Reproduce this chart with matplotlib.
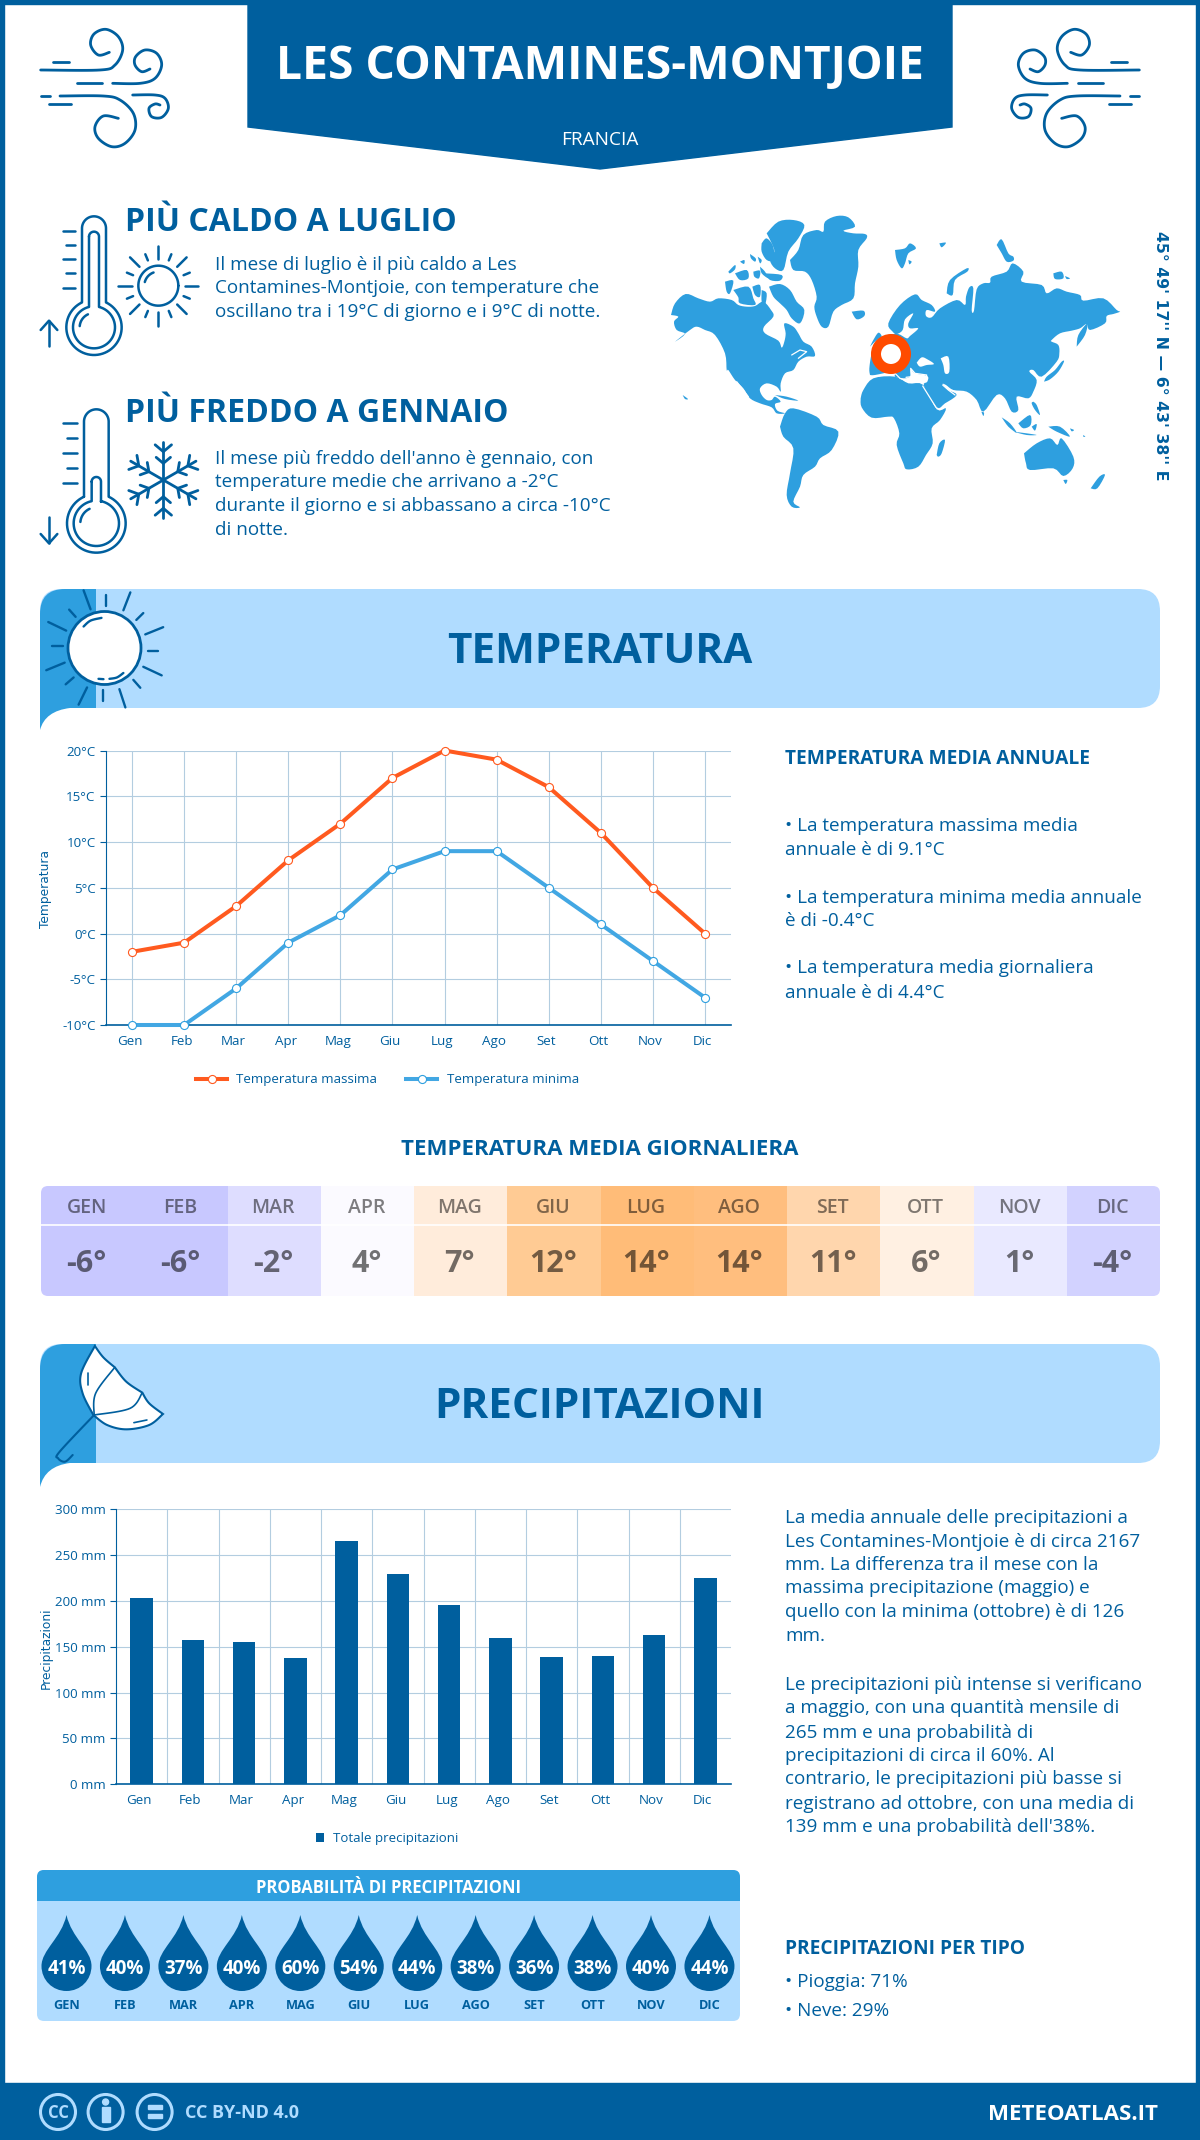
import numpy as np
import matplotlib
matplotlib.use('Agg')
import matplotlib.pyplot as plt
from matplotlib.patches import Circle, FancyBboxPatch, PathPatch, Polygon, Rectangle
from matplotlib.path import Path
from matplotlib.transforms import ScaledTranslation

plt.rcParams['font.family'] = ['Open Sans', 'DejaVu Sans']

W, H = 1200, 2140
DARK = '#005f9e'
MID = '#2e9fdf'
LIGHT = '#b0dcff'
ORANGE = '#ff5a1f'
GRID = '#b3cde0'

months = ['Gen', 'Feb', 'Mar', 'Apr', 'Mag', 'Giu', 'Lug', 'Ago', 'Set', 'Ott', 'Nov', 'Dic']
temp_max = [-2, -1, 3, 8, 12, 17, 20, 19, 16, 11, 5, 0]
temp_min = [-10, -10, -6, -1, 2, 7, 9, 9, 5, 1, -3, -7]
temp_avg = [-6, -6, -2, 4, 7, 12, 14, 14, 11, 6, 1, -4]
avg_colors = ['#c8c8ff', '#c8c8ff', '#deddff', '#fbfaff', '#ffecdb', '#ffcb94',
              '#ffbc78', '#ffbe7e', '#ffd6ad', '#fff0e2', '#e9e9ff', '#d2d2ff']
rain = [203, 157, 155, 138, 265, 229, 196, 160, 139, 140, 163, 225]
rain_prob = [41, 40, 37, 40, 60, 54, 44, 38, 36, 38, 40, 44]

fig = plt.figure(figsize=(W / 100, H / 100), dpi=100, facecolor='white')
bg = fig.add_axes([0, 0, 1, 1])
bg.set_xlim(0, W)
bg.set_ylim(H, 0)
bg.axis('off')


def text(x, y, s, size, weight='normal', color=DARK, ha='left', **kw):
    # y is the middle of the capitals, in picture pixels
    return bg.text(x, y + 0.496 * size, s, fontsize=size, fontweight=weight, color=color,
                   ha=ha, va='baseline', **kw)


def stroke(pts, lw=1.8, color=DARK, zorder=5):
    pts = np.array(pts, float)
    bg.plot(pts[:, 0], pts[:, 1], color=color, lw=lw, solid_capstyle='round',
            solid_joinstyle='round', zorder=zorder)


def smooth(pts, n=12):
    # catmull-rom through hand placed points, for the icons
    p = np.array(pts, float)
    p = np.vstack([p[0], p, p[-1]])
    out = []
    for i in range(1, len(p) - 2):
        for t in np.linspace(0, 1, n, endpoint=False):
            out.append(0.5 * (2 * p[i] + (p[i + 1] - p[i - 1]) * t
                              + (2 * p[i - 1] - 5 * p[i] + 4 * p[i + 1] - p[i + 2]) * t ** 2
                              + (3 * p[i] - p[i - 1] - 3 * p[i + 1] + p[i + 2]) * t ** 3))
    out.append(p[-2])
    return np.array(out)


def arc(cx, cy, r, a0, a1, n=60):
    a = np.radians(np.linspace(a0, a1, n))
    return np.column_stack([cx + r * np.cos(a), cy - r * np.sin(a)])


# page frame and footer
bg.add_patch(Rectangle((0, 0), 4, H, color=DARK))
bg.add_patch(Rectangle((W - 4, 0), 4, H, color=DARK))
bg.add_patch(Rectangle((0, 0), W, 4, color=DARK))
bg.add_patch(Rectangle((0, 2083), W, 57, color=DARK))

# header ribbon
bg.add_patch(Polygon([(248, 0), (952, 0), (952, 127), (600, 169), (248, 127)], color=DARK))
text(600, 62, 'LES CONTAMINES-MONTJOIE', 33.3, 'bold', 'white', ha='center')
text(600, 138, 'FRANCIA', 13.7, 'normal', 'white', ha='center')

# wind icons
wind_curves = [
    [(62, 180), (240, 180), (285, 165), (308, 120), (295, 80), (258, 58), (222, 72), (212, 105), (235, 135), (268, 127)],
    [(278, 220), (360, 220), (405, 205), (425, 165), (410, 130), (375, 120), (347, 140), (345, 165), (365, 185), (390, 177)],
    [(120, 258), (250, 258), (300, 270), (340, 310), (345, 360), (315, 400), (275, 410), (235, 385), (225, 350), (250, 318), (295, 325)],
    [(338, 255), (405, 255), (435, 265), (445, 295), (425, 322), (395, 320), (387, 295), (405, 282), (420, 285)],
]
wind_dashes = [[(100, 155), (148, 155)], [(170, 220), (245, 220)], [(62, 258), (90, 258)], [(87, 283), (153, 283)]]
for curve in wind_curves + wind_dashes:
    pts = smooth(curve) if len(curve) > 2 else np.array(curve, float)
    pts = np.column_stack([20 + pts[:, 0] / 3, 10 + pts[:, 1] / 3])
    stroke(pts, 2.0)
    stroke(np.column_stack([1180 - pts[:, 0], pts[:, 1]]), 2.0)


# thermometers and small icons, drawn in 3x crop coordinates
def z7(pts):
    pts = np.array(pts, float)
    return np.column_stack([20 + pts[:, 0] / 3, 200 + pts[:, 1] / 3])


def thermometer(cx, hw, top, neck, bulb_y, bulb_r, inner_hw, inner_top, inner_neck, inner_r):
    a = np.degrees(np.arccos(hw / bulb_r))
    outer = np.vstack([[[cx - hw, neck]], arc(cx, top, hw, 180, 0), [[cx + hw, neck]],
                       arc(cx, bulb_y, bulb_r, a, 180 - a - 360)])
    stroke(z7(outer))
    b = np.degrees(np.arccos(inner_hw / inner_r))
    inner = np.vstack([arc(cx, inner_top, inner_hw, 180, 0), [[cx + inner_hw, inner_neck]],
                       arc(cx, bulb_y, inner_r, b, 180 - b - 360), [[cx - inner_hw, inner_top]]])
    stroke(z7(inner))
    stroke(z7(arc(cx, bulb_y, inner_r - 20, 115, 175, 15)))


thermometer(222, 36, 85, 305, 382, 83, 15, 110, 320, 63)
thermometer(229, 37, 665, 890, 970, 88, 14, 845, 905, 68)
for y, x0 in zip([93, 135, 178, 220, 263], [128, 138, 128, 138, 128]):
    stroke(z7([(x0, y), (165, y)]))
for y, x0 in zip([670, 715, 760, 803, 848], [130, 140, 130, 140, 130]):
    stroke(z7([(x0, y), (170, y)]))
stroke(z7([(87, 438), (87, 362)]))
stroke(z7([(62, 390), (87, 362), (112, 390)]))
stroke(z7([(87, 950), (87, 1030)]))
stroke(z7([(62, 1002), (87, 1030), (112, 1002)]))

# small sun
stroke(z7(arc(415, 257, 60, 0, 360)))
stroke(z7(arc(415, 257, 42, 110, 165, 15)))
for a in np.arange(0, 360, 22.5):
    r0, r1 = (80, 120) if int(a / 22.5) % 2 == 0 else (82, 102)
    ca, sa = np.cos(np.radians(a)), np.sin(np.radians(a))
    stroke(z7([(415 + r0 * ca, 257 - r0 * sa), (415 + r1 * ca, 257 - r1 * sa)]))

# snowflake
for a in np.arange(30, 360, 60):
    u = np.array([np.cos(np.radians(a)), -np.sin(np.radians(a))])
    c = np.array([430, 840])
    stroke(z7([c, c + 113 * u]), 2.0)
    for r, l in [(50, 28), (85, 32)]:
        for s in (-50, 50):
            t = np.radians(a + s)
            v = np.array([np.cos(t), -np.sin(t)])
            stroke(z7([c + r * u, c + r * u + l * v]), 2.0)

# left texts
text(125, 220, 'PIÙ CALDO A LUGLIO', 23, 'bold')
for y, line in zip([263, 286, 310], ['Il mese di luglio è il più caldo a Les',
                                     'Contamines-Montjoie, con temperature che',
                                     'oscillano tra i 19°C di giorno e i 9°C di notte.']):
    text(215, y, line, 13.6)
text(125, 411, 'PIÙ FREDDO A GENNAIO', 23, 'bold')
for y, line in zip([457, 480, 504, 528], ["Il mese più freddo dell'anno è gennaio, con",
                                          'temperature medie che arrivano a -2°C',
                                          'durante il giorno e si abbassano a circa -10°C',
                                          'di notte.']):
    text(215, y, line, 13.6)


# world map, traced by hand from 3x crops; all lists end up in crop coordinates of (660, 200)
def crop_a(pts):
    return [(x + 15, y + 30) for x, y in pts]


def crop_b(pts):
    return [(x + 690, y + 90) for x, y in pts]


def crop_c(pts):
    return [(x + 480, y + 360) for x, y in pts]


north_america = crop_a([(18, 315), (30, 280), (62, 252), (100, 265), (135, 275), (160, 265), (200, 270), (220, 285), (245, 290), (270, 288), (295, 275), (318, 300), (325, 320), (297, 350), (300, 370), (340, 392), (350, 413), (358, 395), (362, 370), (358, 340), (385, 350), (400, 370), (415, 395), (440, 410), (450, 438), (425, 440), (400, 455), (385, 480)]) + [(375, 520), (362, 550), (362, 575), (350, 560), (320, 550), (300, 565), (305, 585), (320, 600), (335, 600), (345, 590), (362, 605), (345, 612), (352, 632), (375, 640), (350, 640), (335, 622), (300, 610), (270, 595), (250, 565), (225, 540), (205, 510)] + crop_a([(185, 480), (180, 430), (150, 375), (120, 360), (95, 350), (75, 360), (30, 395), (60, 372), (35, 360), (27, 335), (40, 320)])
eurasia = crop_c([(150, 165), (148, 145), (155, 100), (170, 60), (210, 45), (235, 42)]) + crop_b([(50, 325), (60, 318), (85, 295), (60, 295), (55, 280), (70, 250), (45, 268), (38, 300), (20, 312), (8, 305), (-5, 280), (30, 225), (75, 193), (95, 210), (125, 225), (135, 245), (110, 240), (108, 258), (125, 262), (150, 235), (200, 210), (225, 225), (228, 200), (238, 172), (250, 175), (245, 240), (252, 242), (260, 178), (280, 160), (300, 158), (305, 140), (350, 125), (368, 100), (400, 125), (395, 155), (455, 165), (470, 190), (500, 175), (530, 185), (570, 195), (580, 212), (640, 205), (680, 240), (690, 245), (670, 252), (650, 258), (645, 280), (600, 300), (590, 282), (570, 295), (545, 302), (510, 310), (485, 330)]) + crop_c([(695, 65), (715, 75), (718, 100), (710, 125), (665, 170), (640, 150), (628, 155), (650, 180), (640, 215), (625, 235), (590, 230), (595, 270), (575, 275), (555, 235), (530, 225), (490, 275), (470, 240), (440, 215), (400, 210), (378, 195), (368, 192), (385, 210), (410, 225), (375, 250), (350, 262), (312, 198), (322, 185), (322, 168), (285, 160), (272, 148), (270, 170), (250, 175), (225, 170), (222, 155), (165, 165)])
africa = crop_c([(122, 235), (130, 210), (160, 175), (225, 170), (265, 190), (310, 195), (350, 268), (378, 265), (360, 300), (335, 325), (338, 370), (318, 405), (295, 440), (260, 448), (250, 430), (230, 375), (238, 340), (222, 295), (205, 290), (155, 293), (125, 262)])
south_america = [(360, 680), (375, 640), (400, 625), (470, 650), (490, 675), (535, 695), (515, 750), (480, 775), (465, 800), (430, 825), (420, 860), (400, 905), (420, 922), (395, 920), (380, 885), (390, 820), (400, 745), (370, 710)]
greenland = crop_a([(375, 150), (400, 120), (415, 75), (455, 60), (475, 65), (480, 35), (515, 18), (550, 22), (570, 50), (535, 62), (565, 70), (600, 72), (605, 85), (580, 120), (580, 170), (570, 220), (565, 265), (530, 285), (505, 305), (490, 350), (470, 350), (455, 320), (448, 290), (455, 260), (440, 210), (420, 185), (385, 180)])
arctic_islands = [crop_a(p) for p in [
    [(312, 230), (345, 222), (375, 240), (395, 275), (418, 300), (405, 340), (380, 325), (365, 300), (345, 280), (325, 260)],
    [(305, 70), (340, 35), (385, 30), (418, 45), (400, 85), (370, 125), (355, 180), (330, 175), (315, 150), (328, 125), (320, 100)],
    [(290, 100), (305, 85), (325, 110), (325, 150), (305, 150), (290, 125)],
    [(180, 215), (205, 212), (195, 250), (185, 245)],
    [(205, 240), (250, 230), (265, 265), (270, 285), (225, 280), (220, 262)],
    [(262, 230), (285, 225), (285, 260), (270, 255)],
    [(290, 240), (305, 250), (300, 285), (290, 275)],
    [(300, 190), (350, 195), (345, 212), (315, 210)],
    [(265, 185), (285, 182), (282, 205), (268, 200)],
    [(210, 190), (245, 180), (250, 205), (225, 210)],
    [(190, 185), (210, 165), (210, 178), (195, 190)],
    [(225, 155), (238, 150), (237, 162)],
    [(255, 132), (272, 145), (270, 155), (258, 145)],
    [(285, 170), (300, 185), (310, 205), (290, 190)],
    [(278, 140), (290, 150), (285, 160)],
    [(560, 305), (595, 302), (598, 318), (575, 328)],
]]
north_islands = [crop_b(p) for p in [
    [(560, 350), (565, 315), (592, 280), (585, 315)],
    [(15, 60), (45, 55), (60, 40), (78, 55), (55, 70), (45, 100), (35, 115), (20, 90)],
    [(55, 90), (65, 95), (58, 103)],
    [(148, 40), (168, 38), (155, 52)],
    [(170, 190), (180, 150), (230, 115), (232, 125), (195, 150), (188, 195)],
    [(320, 45), (335, 28), (355, 70), (370, 80), (370, 92), (350, 95), (335, 70)],
    [(490, 130), (515, 125), (520, 145), (495, 147)],
    [(525, 138), (540, 145), (530, 147)],
]]
south_islands = [crop_c(p) for p in [
    [(150, 80), (160, 60), (175, 38), (185, 50), (170, 60)],
    [(672, 185), (680, 170), (705, 150), (725, 125), (732, 125), (715, 155), (690, 178)],
    [(545, 292), (570, 310), (590, 338), (565, 320)],
    [(580, 335), (620, 340), (650, 345), (620, 345)],
    [(595, 310), (630, 285), (632, 315), (610, 325)],
    [(635, 320), (650, 312), (645, 332)],
    [(640, 245), (650, 255), (660, 285), (645, 270), (635, 250)],
    [(685, 320), (720, 320), (750, 350), (710, 335)],
    [(612, 400), (650, 370), (690, 355), (712, 375), (725, 355), (760, 410), (758, 445), (730, 468), (700, 445), (630, 450), (618, 430)],
    [(730, 480), (742, 480), (737, 492)],
    [(812, 505), (838, 470), (855, 465), (832, 505)],
    [(350, 405), (358, 370), (375, 360), (365, 400), (355, 410)],
    [(484, 275), (492, 278), (490, 288)],
    [(750, 325), (762, 330), (755, 334)],
    [(790, 345), (796, 350), (790, 350)],
]]
caribbean = [[(345, 585), (380, 590), (415, 602), (375, 597)], [(68, 585), (84, 597), (75, 597)]]
lakes = [
    crop_c([(290, 128), (305, 112), (322, 118), (342, 132), (320, 135), (300, 140)]),
    crop_c([(362, 115), (385, 110), (388, 155), (375, 160), (370, 135)]),
]
water_lines = [
    crop_c([(150, 172), (190, 165), (225, 160), (240, 175), (262, 183), (285, 185), (318, 185), (320, 165), (285, 160), (272, 145), (275, 170), (258, 172)]),
    crop_c([(308, 198), (348, 262)]),
    crop_c([(368, 195), (385, 210), (405, 225)]),
    [(395, 465), (420, 450), (440, 455), (415, 475)],
    [(230, 545), (265, 590)],
]


def to_page(pts):
    p = np.array(pts, float)
    return np.column_stack([660 + p[:, 0] / 3, 200 + p[:, 1] / 3])


for poly in [north_america, eurasia, africa, south_america, greenland] + arctic_islands + north_islands + south_islands + caribbean:
    closed = smooth(list(poly) + [poly[0]], n=4)
    bg.add_patch(Polygon(to_page(closed), color=MID, lw=0))
for poly in lakes:
    closed = smooth(list(poly) + [poly[0]], n=4)
    bg.add_patch(Polygon(to_page(closed), color='white', lw=0))
for line in water_lines:
    stroke(to_page(line), 0.9, 'white', zorder=2)
bg.add_patch(Circle((891, 354), 15, fc='white', ec='#ff4b00', lw=7.2, zorder=6))
bg.text(1161, 356, "45° 49' 17'' N — 6° 43' 38'' E", fontsize=11.3, fontweight='bold', family='DejaVu Sans',
        color=DARK, rotation=270, ha='center', va='center')


def banner(top, bottom, title, title_y, tail):
    bg.add_patch(FancyBboxPatch((40, top), 1120, bottom - top, boxstyle='round,pad=0,rounding_size=22',
                                fc=LIGHT, ec='none'))
    verts = [(40, tail), (45, bottom + 3), (70, bottom), (96, bottom), (96, top), (65, top), (40, top), (40, top + 25), (40, tail)]
    codes = [Path.MOVETO, Path.CURVE3, Path.CURVE3, Path.LINETO, Path.LINETO, Path.LINETO, Path.CURVE3, Path.CURVE3, Path.LINETO]
    bg.add_patch(PathPatch(Path(verts, codes), fc=MID, ec='none'))
    text(600, title_y, title, 30.4, 'bold', ha='center')


banner(589, 708, 'TEMPERATURA', 648, 730)
banner(1344, 1463, 'PRECIPITAZIONI', 1403, 1487)


# big sun on the temperature banner
def z2(pts):
    pts = np.array(pts, float)
    return np.column_stack([pts[:, 0] / 2.01, 580 + pts[:, 1] / 2.904])


bg.add_patch(Circle((104.5, 648), 36.5, fc='white', ec=DARK, lw=2, zorder=5))
sun_rays = [[(168, 30), (182, 85)], [(214, 45), (214, 75)], [(262, 36), (248, 88)], [(288, 96), (274, 116)],
            [(328, 137), (292, 158)], [(297, 205), (318, 205)], [(288, 252), (325, 277)], [(268, 290), (282, 313)],
            [(240, 317), (252, 370)], [(207, 320), (207, 352)], [(175, 312), (158, 362)], [(148, 283), (132, 303)],
            [(130, 240), (93, 262)], [(105, 193), (127, 193)], [(133, 147), (97, 122)], [(152, 107), (139, 86)]]
for ray in sun_rays:
    stroke(z2(ray), 1.7)
stroke(z2(smooth([(168, 135), (182, 118), (204, 110)])), 1.7, zorder=6)
stroke(z2(smooth([(220, 287), (235, 283), (248, 270)])), 1.7, zorder=6)
stroke(z2([(198, 287), (208, 288)]), 1.7, zorder=6)


# umbrella on the rain banner
def z3(pts):
    pts = np.array(pts, float)
    return np.column_stack([pts[:, 0] / 1.307, 1130 + pts[:, 1] / 3])


canopy = np.vstack([smooth([(124, 648), (135, 682), (150, 712)]), smooth([(150, 712), (165, 755), (186, 788)]),
                    smooth([(186, 788), (195, 820), (213, 852)]), smooth([(213, 852), (195, 885), (165, 898), (140, 885), (122, 855)]),
                    smooth([(122, 855), (108, 790), (106, 730), (124, 648)])])
bg.add_patch(Polygon(z3(canopy), fc='white', ec=DARK, lw=1.5, zorder=5))
stroke(z3(smooth([(150, 712), (125, 790), (123, 855)])), 1.2, zorder=6)
stroke(z3(smooth([(186, 788), (170, 835), (123, 855)])), 1.2, zorder=6)
stroke(z3(smooth([(123, 855), (78, 965), (76, 985), (85, 995), (95, 975)])), 1.5, zorder=6)
stroke(z3([(115, 730), (115, 765)]), 1.2, zorder=6)
stroke(z3([(175, 878), (192, 870)]), 1.2, zorder=6)


def chart_axes(left, top, right, bottom):
    ax = fig.add_axes([left / W, 1 - bottom / H, (right - left) / W, (bottom - top) / H], facecolor='none')
    ax.set_xlim(-0.5, 11.5)
    ax.set_xticks(range(12), months)
    ax.spines[['top', 'right']].set_visible(False)
    for side in ['left', 'bottom']:
        ax.spines[side].set_color(DARK)
    ax.spines['bottom'].set_linewidth(1.2)
    ax.spines['left'].set_linewidth(0.8)
    ax.tick_params(axis='x', length=0, pad=7, labelsize=9.6, labelcolor=DARK)
    ax.tick_params(axis='y', length=4, width=0.8, color=DARK, pad=3.5, labelsize=9.6, labelcolor=DARK)
    shift = ScaledTranslation(-2.5 / 100, 0, fig.dpi_scale_trans)
    for lab in ax.get_xticklabels():
        lab.set_transform(lab.get_transform() + shift)
    ax.set_axisbelow(True)
    return ax


# temperature lines
ax1 = chart_axes(106, 750.5, 731, 1025)
ax1.set_ylim(-10, 20)
ax1.set_yticks(range(-10, 21, 5), [f'{v}°C' for v in range(-10, 21, 5)])
ax1.grid(True, color=GRID, lw=0.8)
ax1.plot(range(12), temp_max, color=ORANGE, lw=2.9, marker='o', ms=5.8, mfc='white', mec=ORANGE, mew=0.8,
         clip_on=False, label='Temperatura massima', zorder=4)
ax1.plot(range(12), temp_min, color='#42a7e3', lw=2.9, marker='o', ms=5.8, mfc='white', mec=MID, mew=0.8,
         clip_on=False, label='Temperatura minima', zorder=4)
bg.text(46, 889, 'Temperatura', fontsize=8.8, family='DejaVu Sans', color=DARK, rotation=90, ha='center', va='center')
ax1.legend(loc='center', bbox_to_anchor=(387.5, 1080), bbox_transform=bg.transData, ncol=2, frameon=False,
           fontsize=9.5, labelcolor=DARK, handlelength=2.35, handletextpad=0.7, columnspacing=2.2)

# right column, temperature
text(785, 757, 'TEMPERATURA MEDIA ANNUALE', 13.75, 'bold')
for y, line in zip([824, 848, 896, 919, 966, 991],
                   ['• La temperatura massima media', 'annuale è di 9.1°C',
                    '• La temperatura minima media annuale', 'è di -0.4°C',
                    '• La temperatura media giornaliera', 'annuale è di 4.4°C']):
    text(785, y, line, 13.6)

# daily mean table
text(600, 1147, 'TEMPERATURA MEDIA GIORNALIERA', 16, 'bold', ha='center')
table_clip = FancyBboxPatch((41, 1186), 1119, 110, boxstyle='round,pad=0,rounding_size=7', fc='none', ec='none')
bg.add_patch(table_clip)
cell_w = 1119 / 12
for i, (m, v, c) in enumerate(zip(months, temp_avg, avg_colors)):
    cell = Rectangle((41 + i * cell_w, 1186), cell_w + 0.5, 110, fc=c, ec='none')
    bg.add_patch(cell)
    cell.set_clip_path(table_clip)
    cx = 41 + (i + 0.5) * cell_w - 1
    text(cx, 1206, m.upper(), 14, 'semibold', 'black', ha='center', alpha=0.5)
    text(cx, 1261, f'{v}°', 22, 'bold', 'black', ha='center', alpha=0.55)
bg.plot([41, 1160], [1225, 1225], color='white', lw=1.2)

# rain bars
ax2 = chart_axes(116, 1509.3, 731, 1784.3)
ax2.set_ylim(0, 300)
ax2.set_yticks(range(0, 301, 50), [f'{v} mm' for v in range(0, 301, 50)])
ax2.set_xticks(np.arange(0.5, 11), minor=True)
ax2.tick_params(axis='x', which='minor', length=0)
ax2.grid(True, axis='y', color=GRID, lw=0.8)
ax2.grid(True, axis='x', which='minor', color=GRID, lw=0.8)
ax2.bar(range(12), rain, width=0.44, color=DARK, label='Totale precipitazioni', zorder=3)
bg.text(46, 1648, 'Precipitazioni', fontsize=8.8, family='DejaVu Sans', color=DARK, rotation=90, ha='center', va='center')
ax2.legend(loc='center', bbox_to_anchor=(387, 1838.7), bbox_transform=bg.transData, frameon=False,
           fontsize=9.5, labelcolor=DARK, handlelength=0.62, handleheight=0.62, handletextpad=0.7)

# right column, rain
rain_lines = {1516: 'La media annuale delle precipitazioni a', 1540: 'Les Contamines-Montjoie è di circa 2167',
              1563: 'mm. La differenza tra il mese con la', 1586: 'massima precipitazione (maggio) e',
              1610: 'quello con la minima (ottobre) è di 126', 1634: 'mm.',
              1683: 'Le precipitazioni più intense si verificano', 1706: 'a maggio, con una quantità mensile di',
              1731: '265 mm e una probabilità di', 1754: 'precipitazioni di circa il 60%. Al',
              1777: 'contrario, le precipitazioni più basse si', 1802: 'registrano ad ottobre, con una media di',
              1825: "139 mm e una probabilità dell'38%."}
for y, line in rain_lines.items():
    text(785, y, line, 13.6)

# probability box
box = FancyBboxPatch((37, 1870), 703, 151, boxstyle='round,pad=0,rounding_size=7', fc=LIGHT, ec='none')
bg.add_patch(box)
head = Rectangle((37, 1870), 703, 31, fc=MID, ec='none')
bg.add_patch(head)
head.set_clip_path(box)
text(389, 1887, 'PROBABILITÀ DI PRECIPITAZIONI', 12, 'bold', 'white', ha='center')
for i, (m, p) in enumerate(zip(months, rain_prob)):
    cx = 66.5 + i * 58.45
    verts = [(cx, 1915), (cx + 5, 1938), (cx + 25, 1950), (cx + 25, 1966), (cx + 25, 1980), (cx + 14, 1991), (cx, 1991),
             (cx - 14, 1991), (cx - 25, 1980), (cx - 25, 1966), (cx - 25, 1950), (cx - 5, 1938), (cx, 1915)]
    codes = [Path.MOVETO] + [Path.CURVE4] * 12
    bg.add_patch(PathPatch(Path(verts, codes), fc=DARK, ec='none'))
    text(cx, 1967, f'{p}%', 13.5, 'bold', 'white', ha='center')
    text(cx, 2004, m.upper(), 9.2, 'bold', DARK, ha='center')

text(785, 1947, 'PRECIPITAZIONI PER TIPO', 13.75, 'bold')
text(785, 1980, '• Pioggia: 71%', 13.6)
text(785, 2009, '• Neve: 29%', 13.6)

# footer
for cx in [58, 105.6, 154.6]:
    bg.add_patch(Circle((cx, 2112), 17.5, fc='none', ec=LIGHT, lw=2.2, zorder=6))
text(58, 2112, 'CC', 12, 'bold', LIGHT, ha='center', zorder=7)
bg.add_patch(Circle((105.6, 2102), 3, color=LIGHT, zorder=7))
bg.add_patch(Rectangle((101.5, 2107), 8.2, 15, color=LIGHT, zorder=7))
bg.add_patch(Rectangle((147.6, 2105), 14, 4, color=LIGHT, zorder=7))
bg.add_patch(Rectangle((147.6, 2114), 14, 4, color=LIGHT, zorder=7))
text(185, 2112, 'CC BY-ND 4.0', 13, 'bold', LIGHT)
text(1158, 2112, 'METEOATLAS.IT', 16, 'bold', 'white', ha='right')

fig.savefig('out.png', dpi=100)
